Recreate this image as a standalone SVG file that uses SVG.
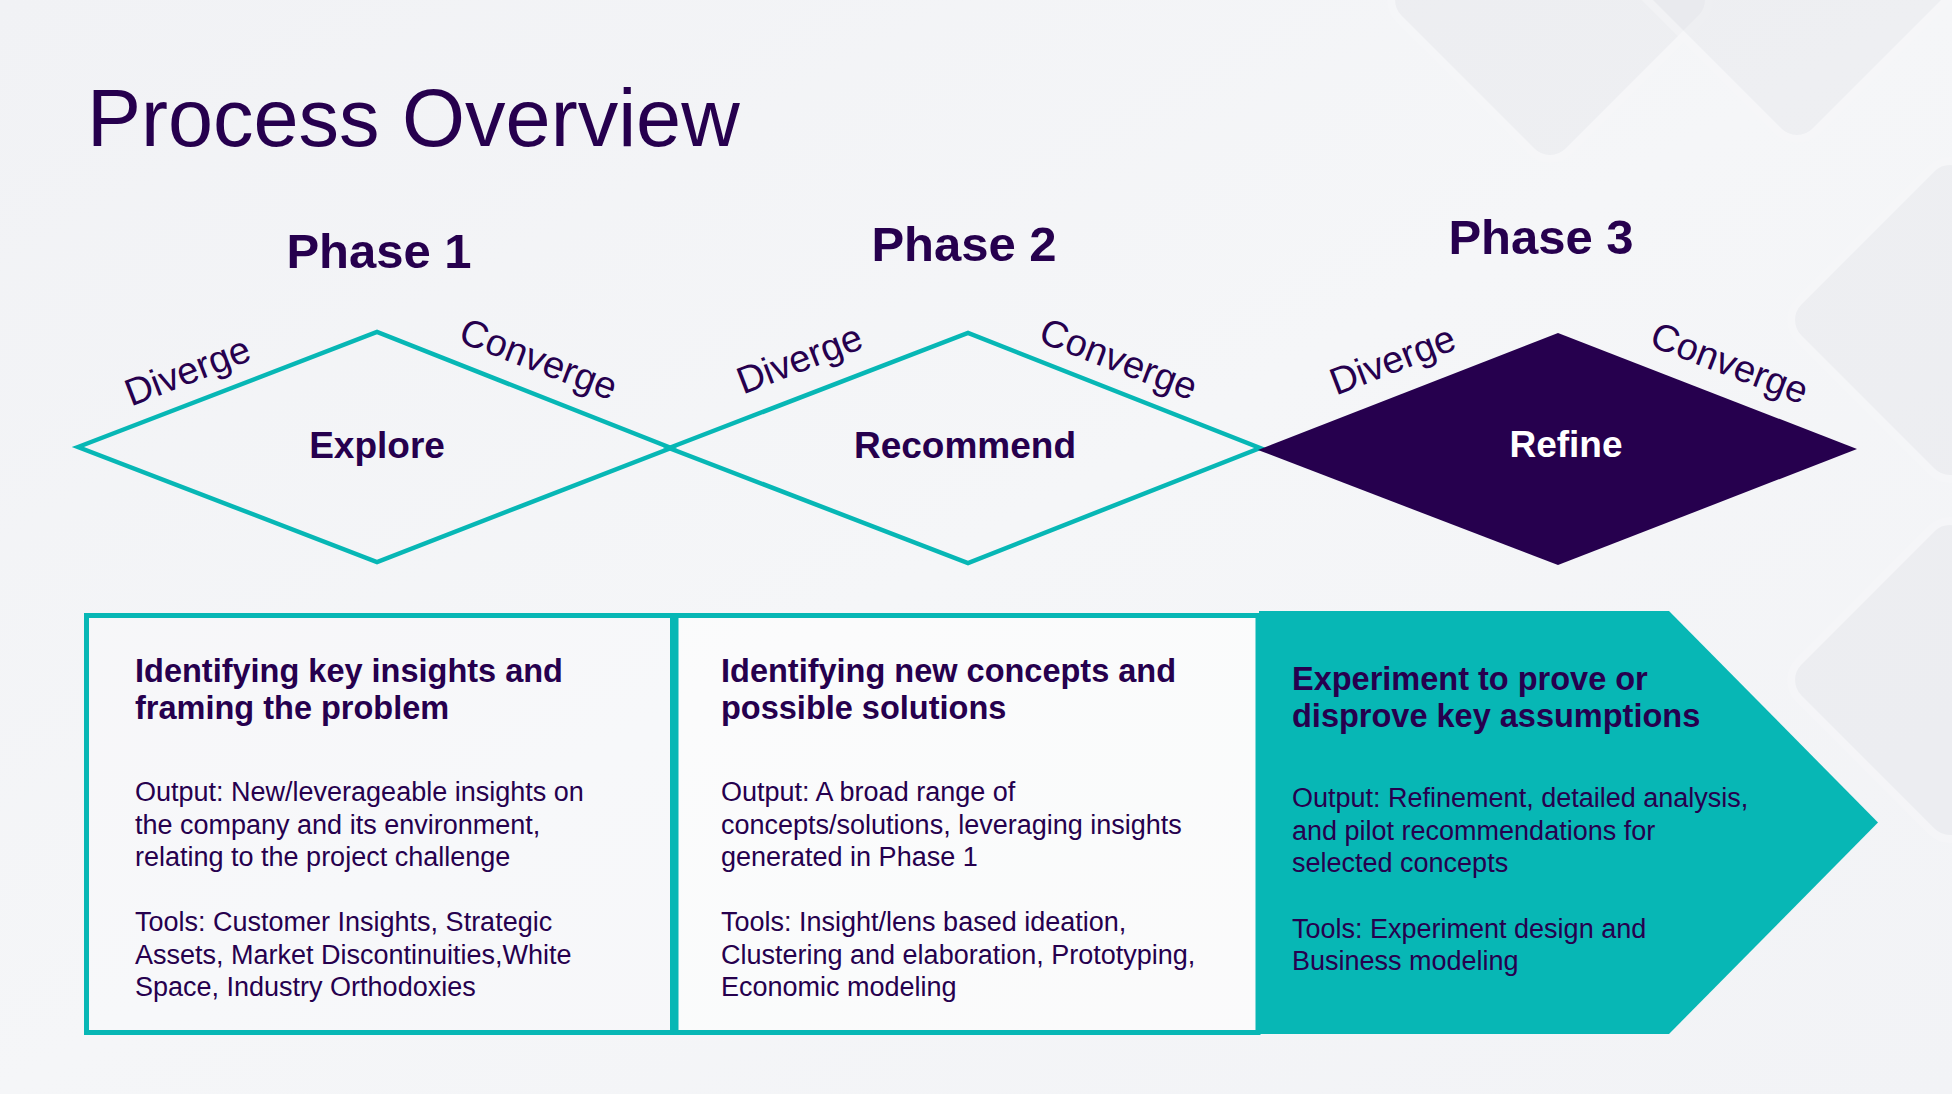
<svg xmlns="http://www.w3.org/2000/svg" width="1952" height="1094" viewBox="0 0 1952 1094">
  <defs>
    <linearGradient id="bg" x1="0" y1="0" x2="1" y2="1">
      <stop offset="0" stop-color="#F1F2F5"/>
      <stop offset="0.5" stop-color="#F5F6F8"/>
      <stop offset="1" stop-color="#F2F3F6"/>
    </linearGradient>
  </defs>
  <style>
    .t { font-family: "Liberation Sans", Arial, Helvetica, sans-serif; fill: #26004E; }
    .title { font-size: 81px; }
    .phase { font-size: 49px; font-weight: bold; text-anchor: middle; }
    .dlabel { font-size: 37px; font-weight: bold; text-anchor: middle; }
    .side { font-size: 38px; text-anchor: middle; }
    .head { font-size: 32.5px; font-weight: bold; }
    .body { font-size: 27px; }
    .outline { fill: none; stroke: #07B7B5; stroke-width: 4.5; stroke-linejoin: miter; }
    .box { stroke: #07B7B5; stroke-width: 5; }
    .wm { fill: #E4E5EA; stroke: #F8F8FA; stroke-width: 8; opacity: 0.4; }
  </style>

  <rect x="0" y="0" width="1952" height="1094" fill="url(#bg)"/>

  <g id="watermark">
    <rect class="wm" x="1430" y="-120" width="240" height="240" rx="26" transform="rotate(45 1550 0)"/>
    <rect class="wm" x="1677" y="-140" width="240" height="240" rx="26" transform="rotate(45 1797 -20)"/>
    <rect class="wm" x="1830" y="200" width="240" height="240" rx="26" transform="rotate(45 1950 320)"/>
    <rect class="wm" x="1830" y="560" width="240" height="240" rx="26" transform="rotate(45 1950 680)"/>
  </g>

  <text class="t title" x="87" y="146">Process Overview</text>

  <g id="phase1">
    <text class="t phase" x="379" y="268">Phase 1</text>
    <polygon class="outline" points="78,447 377,332 671,448 377,562"/>
    <text class="t dlabel" x="377" y="458">Explore</text>
    <text class="t side" transform="translate(192 383) rotate(-21)">Diverge</text>
    <text class="t side" transform="translate(534 371) rotate(21)">Converge</text>
  </g>

  <g id="phase2">
    <text class="t phase" x="964" y="261">Phase 2</text>
    <polygon class="outline" points="669,448 968,333 1260,448 968,563"/>
    <text class="t dlabel" x="965" y="458">Recommend</text>
    <text class="t side" transform="translate(804 371) rotate(-21)">Diverge</text>
    <text class="t side" transform="translate(1114 371) rotate(21)">Converge</text>
  </g>

  <g id="phase3">
    <text class="t phase" x="1541" y="254">Phase 3</text>
    <polygon points="1258,450 1558,333 1857,449 1558,565" fill="#26004E"/>
    <text class="t dlabel" x="1566" y="457" style="fill:#FFFFFF">Refine</text>
    <text class="t side" transform="translate(1397 372) rotate(-21)">Diverge</text>
    <text class="t side" transform="translate(1725 375) rotate(21)">Converge</text>
  </g>

  <g id="box1">
    <rect class="box" x="86.5" y="615.5" width="586" height="417" fill="#FFFFFF" fill-opacity="0.25"/>
    <text class="t head" x="135" y="682">Identifying key insights and</text>
    <text class="t head" x="135" y="719">framing the problem</text>
    <text class="t body" x="135" y="801">Output: New/leverageable insights on</text>
    <text class="t body" x="135" y="833.5">the company and its environment,</text>
    <text class="t body" x="135" y="866">relating to the project challenge</text>
    <text class="t body" x="135" y="931">Tools: Customer Insights, Strategic</text>
    <text class="t body" x="135" y="963.5">Assets, Market Discontinuities,White</text>
    <text class="t body" x="135" y="996">Space, Industry Orthodoxies</text>
  </g>

  <g id="box2">
    <rect class="box" x="676" y="615.5" width="582" height="417" fill="#FFFFFF" fill-opacity="0.55"/>
    <text class="t head" x="721" y="682">Identifying new concepts and</text>
    <text class="t head" x="721" y="719">possible solutions</text>
    <text class="t body" x="721" y="801">Output: A broad range of</text>
    <text class="t body" x="721" y="833.5">concepts/solutions, leveraging insights</text>
    <text class="t body" x="721" y="866">generated in Phase 1</text>
    <text class="t body" x="721" y="931">Tools: Insight/lens based ideation,</text>
    <text class="t body" x="721" y="963.5">Clustering and elaboration, Prototyping,</text>
    <text class="t body" x="721" y="996">Economic modeling</text>
  </g>

  <g id="box3">
    <polygon points="1259,611 1669,611 1878,822.5 1669,1034 1259,1034" fill="#07B7B5"/>
    <text class="t head" x="1292" y="690">Experiment to prove or</text>
    <text class="t head" x="1292" y="727">disprove key assumptions</text>
    <text class="t body" x="1292" y="807">Output: Refinement, detailed analysis,</text>
    <text class="t body" x="1292" y="840">and pilot recommendations for</text>
    <text class="t body" x="1292" y="872">selected concepts</text>
    <text class="t body" x="1292" y="938">Tools: Experiment design and</text>
    <text class="t body" x="1292" y="970">Business modeling</text>
  </g>

  <g id="connectors"/>
</svg>
